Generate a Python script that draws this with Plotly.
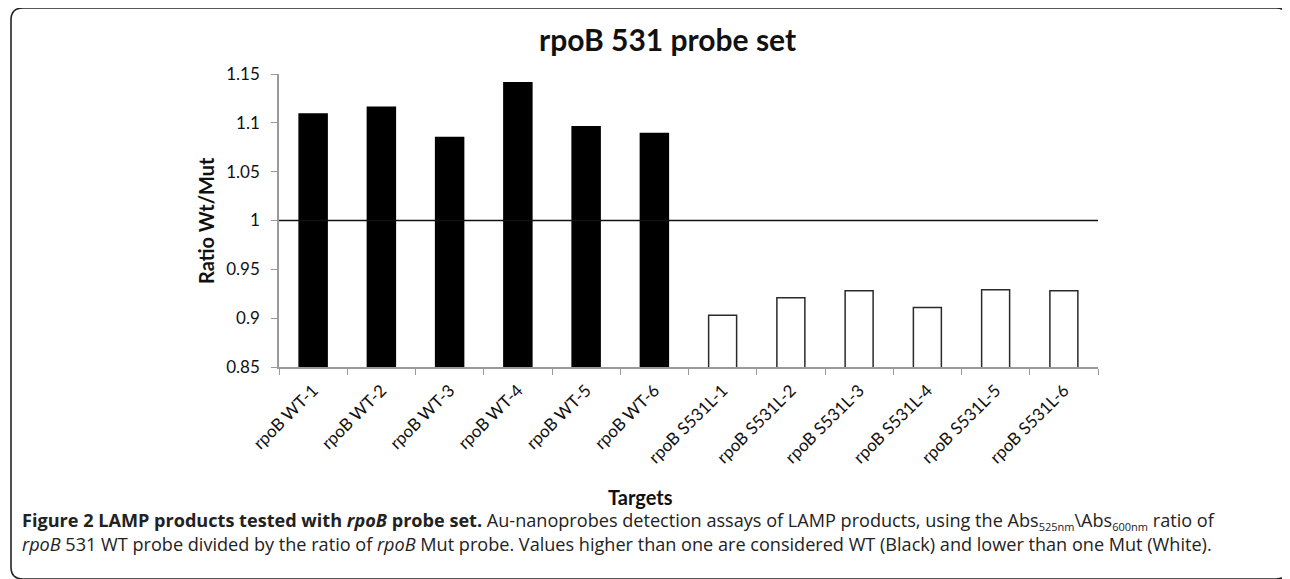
import plotly.graph_objects as go

# ---------------- data ----------------
categories = ["rpoB WT-1", "rpoB WT-2", "rpoB WT-3", "rpoB WT-4", "rpoB WT-5", "rpoB WT-6",
              "rpoB S531L-1", "rpoB S531L-2", "rpoB S531L-3", "rpoB S531L-4", "rpoB S531L-5", "rpoB S531L-6"]
ratios = [1.109, 1.116, 1.085, 1.141, 1.096, 1.089,
          0.903, 0.921, 0.928, 0.911, 0.929, 0.928]
threshold = 1.0
y_tick_vals = [0.85, 0.9, 0.95, 1.0, 1.05, 1.1, 1.15]
y_tick_text = ["0.85", "0.9", "0.95", "1", "1.05", "1.1", "1.15"]

title_text = "rpoB 531 probe set"
y_title = "Ratio Wt/Mut"
x_title = "Targets"
sub_style = "font-size:11px"
caption_line1 = ("<b>Figure 2 LAMP products tested with <i>rpoB</i> probe set.</b> Au-nanoprobes detection assays "
                 f"of LAMP products, using the Abs<sub><span style='{sub_style}'>525nm</span></sub>"
                 f"\\Abs<sub><span style='{sub_style}'>600nm</span></sub> ratio of")
caption_line2 = ("<i>rpoB</i> 531 WT probe divided by the ratio of <i>rpoB</i> Mut probe. Values higher than one "
                 "are considered WT (Black) and lower than one Mut (White).")

# ---------------- layout geometry ----------------
OFF = 8                      # page body margin
W, H = 1290 - OFF, 579 - OFF
# plot area edges in page pixels
L, R, T, B = 279, 1098, 74, 367
pw, ph = R - L, B - T


def px(x):
    return (x - L) / pw


def py(y):
    return (B - y) / ph


fill_colors = ["black" if v > threshold else "white" for v in ratios]
line_colors = ["black" if v > threshold else "#2a2a2a" for v in ratios]

chart_font = "Lato, Calibri, sans-serif"
cap_font = "Open Sans, Noto Sans, sans-serif"

fig = go.Figure()
fig.add_trace(go.Bar(
    x=categories, y=ratios,
    marker=dict(color=fill_colors, line=dict(color=line_colors, width=1.5)),
    showlegend=False,
))

fig.update_layout(
    width=W, height=H,
    margin=dict(l=L - OFF, r=W - (R - OFF), t=T - OFF, b=H - (B - OFF), pad=0),
    paper_bgcolor="white", plot_bgcolor="white",
    bargap=0.59,
    font=dict(family=chart_font, color="#111"),
    xaxis=dict(
        type="category", tickangle=-45, tickson="boundaries",
        ticks="outside", ticklen=6, tickcolor="#9a9a9a", tickwidth=1.2,
        showline=True, linecolor="#9a9a9a", linewidth=1.5,
        showgrid=False, zeroline=False, ticklabelstandoff=5,
        tickfont=dict(family=chart_font, size=17, color="#111"),
    ),
    yaxis=dict(
        range=[0.85, 1.15], tickvals=y_tick_vals, ticktext=y_tick_text,
        ticks="outside", ticklen=6, tickcolor="#9a9a9a", tickwidth=1.2,
        showline=True, linecolor="#9a9a9a", linewidth=1.5,
        showgrid=False, zeroline=False, ticklabelstandoff=8,
        tickfont=dict(family=chart_font, size=17, color="#111"),
    ),
)

# threshold line at ratio = 1
fig.add_shape(type="line", xref="paper", yref="y", x0=0, x1=1, y0=threshold, y1=threshold,
              line=dict(color="#111", width=1.5))

# rounded frame around the figure
fx0, fx1, fy0, fy1, rad = 11, 1288, 8, 579, 12
path = (f"M {px(fx0)},{py(fy1 - rad)} L {px(fx0)},{py(fy0 + rad)} "
        f"Q {px(fx0)},{py(fy0)} {px(fx0 + rad)},{py(fy0)} "
        f"L {px(fx1 - rad)},{py(fy0)} Q {px(fx1)},{py(fy0)} {px(fx1)},{py(fy0 + rad)} "
        f"L {px(fx1)},{py(fy1 - rad)} Q {px(fx1)},{py(fy1)} {px(fx1 - rad)},{py(fy1)} "
        f"L {px(fx0 + rad)},{py(fy1)} Q {px(fx0)},{py(fy1)} {px(fx0)},{py(fy1 - rad)} Z")
fig.add_shape(type="path", xref="paper", yref="paper", path=path,
              line=dict(color="#222", width=1.6), fillcolor="rgba(0,0,0,0)", layer="below")

ann = dict(xref="paper", yref="paper", showarrow=False)
fig.add_annotation(text=f"<b>{title_text}</b>", x=px(667), y=py(39), xanchor="center", yanchor="middle",
                   font=dict(family=chart_font, size=30, color="#111"), **ann)
fig.add_annotation(text=f"<b>{y_title}</b>", x=px(206), y=py(221), xanchor="center", yanchor="middle",
                   textangle=-90, font=dict(family=chart_font, size=20, color="#111"), **ann)
fig.add_annotation(text=f"<b>{x_title}</b>", x=px(640), y=py(497), xanchor="center", yanchor="middle",
                   font=dict(family=chart_font, size=20, color="#111"), **ann)
fig.add_annotation(text=caption_line1 + "<br>" + caption_line2, x=px(20), y=py(532),
                   xanchor="left", yanchor="middle", align="left",
                   font=dict(family=cap_font, size=18.1, color="#222"), **ann)

fig.write_html("out.html")
